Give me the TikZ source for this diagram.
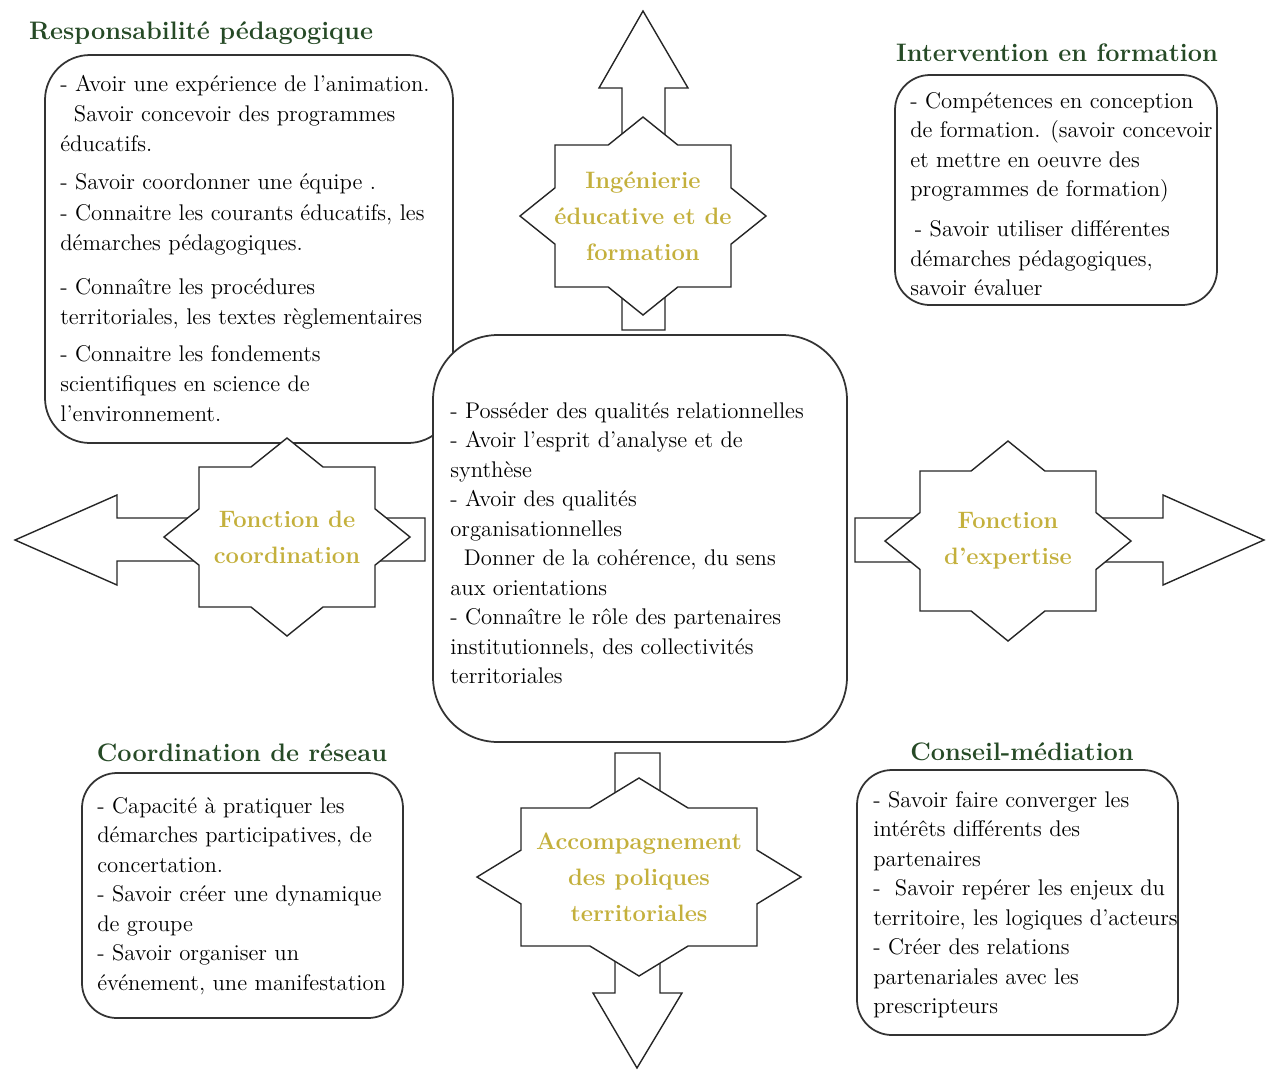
\documentclass[tikz,border=0pt]{standalone}
\usepackage{amssymb}
\usepackage{xcolor}
\usepackage{tikz}

\definecolor{vertTitre}{RGB}{38,74,38}
\definecolor{orEtoile}{RGB}{196,176,60}

\tikzset{
	cadre/.style={draw=black!80, line width=1pt, fill=white, rounded corners=#1},
	fleche/.style={draw=black!85, line width=.8pt, fill=white},
	bord/.style={draw=black!85, line width=.8pt, fill=white},
	titre/.style={text=vertTitre, font=\fontsize{14.4}{16}\selectfont\bfseries},
	liste/.style={anchor=north west, align=left, inner sep=0pt, font=\fontsize{12.9}{16.8}\selectfont},
	motcle/.style={text=orEtoile, align=center, inner sep=0pt, font=\fontsize{13.5}{20.5}\selectfont\bfseries}
}

\newcommand{\etoile}[7]{%
	\pgfmathsetmacro\etx{#5*(1-#4/#6)}%
	\pgfmathsetmacro\ety{#6*(1-#3/#5)}%
	\begin{scope}[shift={#2}]
		\draw[bord] (0,-#6) -- (\etx,-#4) -- (#3,-#4) -- (#3,-\ety) -- (#5,0) -- (#3,\ety) -- (#3,#4) -- (\etx,#4)
			-- (0,#6) -- (-\etx,#4) -- (-#3,#4) -- (-#3,\ety) -- (-#5,0) -- (-#3,-\ety) -- (-#3,-#4) -- (-\etx,-#4) -- cycle;
	\end{scope}
	\node[motcle] (#1) at #2 {#7};
}

\begin{document}
\begin{tikzpicture}[x=0.02cm, y=-0.02cm]
\useasboundingbox (0,0) rectangle (1268,1073);

\draw[cadre=0.9cm] (45,55) rectangle (453,443);

\draw[fleche] (622,330) -- (622,88) -- (599,88) -- (643,11) -- (688,88) -- (665,88) -- (665,330) -- cycle;
\draw[fleche] (425,518) -- (117,518) -- (117,495) -- (15,540) -- (117,585) -- (117,561) -- (425,561) -- cycle;
\draw[fleche] (855,518) -- (1163,518) -- (1163,495) -- (1264,540) -- (1163,585) -- (1163,562) -- (855,562) -- cycle;
\draw[fleche] (615,753) -- (660,753) -- (660,993) -- (682,993) -- (637,1068) -- (593,993) -- (615,993) -- cycle;

\draw[cadre=1.3cm] (433,335) rectangle (847,742);
\draw[cadre=0.7cm] (895,75) rectangle (1217,305);
\draw[cadre=0.7cm] (82,773) rectangle (403,1018);
\draw[cadre=0.7cm] (857,770) rectangle (1178,1035);

\etoile{ingenierie}{(643,216)}{88}{71}{123}{99}{Ingénierie\\éducative et de\\formation}
\etoile{coordination}{(287,537)}{88}{70}{123}{99}{Fonction de\\coordination}
\etoile{expertise}{(1008,541)}{88}{70}{123}{100}{Fonction\\d'expertise}
\etoile{accompagnement}{(639,877)}{118}{69}{162}{99}{Accompagnement\\des poliques\\territoriales}

\node[titre] (respPeda) at (201,33) {Responsabilité pédagogique};
\node[titre] (interForm) at (1057,53) {Intervention en formation};
\node[titre] (coordReseau) at (242,753) {Coordination de réseau};
\node[titre] (conseilMed) at (1022,752) {Conseil-médiation};

\node[liste] (listePeda) at (60,75) {- Avoir une expérience de l'animation.\\[.3pt]
	\hspace{.6em}Savoir concevoir des programmes\\[.3pt]
	éducatifs.\\[5pt]
	- Savoir coordonner une équipe .\\[.5pt]
	- Connaitre les courants éducatifs, les\\[.5pt]
	démarches pédagogiques.\\[8pt]
	- Connaître les procédures\\[.3pt]
	territoriales, les textes règlementaires\\[4.5pt]
	- Connaitre les fondements\\[.3pt]
	scientifiques en science de\\
	l'environnement.};

\node[liste] (listeForm) at (910,92) {- Compétences en conception\\
	de formation. (savoir concevoir\\
	et mettre en oeuvre des\\
	programmes de formation)\\[6pt]
	\hspace{.2em}- Savoir utiliser différentes\\
	démarches pédagogiques,\\
	savoir évaluer};

\node[liste] (listeCentre) at (450,402) {- Posséder des qualités relationnelles\\
	- Avoir l'esprit d'analyse et de\\
	synthèse\\
	- Avoir des qualités\\
	organisationnelles\\
	\hspace{.6em}Donner de la cohérence, du sens\\
	aux orientations\\
	- Connaître le rôle des partenaires\\
	institutionnels, des collectivités\\
	territoriales};

\node[liste] (listeReseau) at (97,797) {- Capacité à pratiquer les\\
	démarches participatives, de\\
	concertation.\\
	- Savoir créer une dynamique\\
	de groupe\\
	- Savoir organiser un\\
	événement, une manifestation};

\node[liste] (listeConseil) at (873,791) {- Savoir faire converger les\\
	intérêts différents des\\
	partenaires\\
	-\hspace{.3em} Savoir repérer les enjeux du\\
	territoire, les logiques d'acteurs\\
	- Créer des relations\\
	partenariales avec les\\
	prescripteurs};
\end{tikzpicture}
\end{document}
